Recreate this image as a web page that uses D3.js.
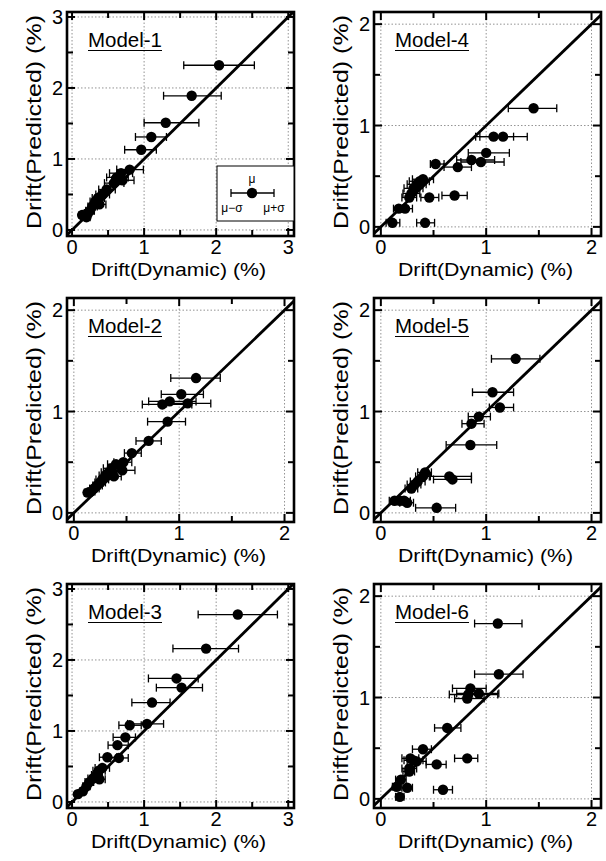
<!DOCTYPE html>
<html lang="en">
<head>
<meta charset="UTF-8">
<title>Drift predicted vs dynamic</title>
<style>
  body { margin: 0; background: #fff; }
  svg { display: block; font-family: "Liberation Sans", Arial, sans-serif; }
  .grid { stroke: #777; stroke-width: 0.8; stroke-dasharray: 1.5 2; }
</style>
</head>
<body>
<svg id="chart"></svg>
<script src="https://cdnjs.cloudflare.com/ajax/libs/d3/7.9.0/d3.min.js"></script>
<script>
// each point: [drift dynamic mean, drift predicted, mean - sigma, mean + sigma]
const model1 = [
  [2.04, 2.32, 1.55, 2.53], [1.66, 1.89, 1.27, 2.07], [1.30, 1.51, 1.00, 1.76],
  [1.10, 1.31, 0.88, 1.31], [0.96, 1.13, 0.73, 1.17], [0.80, 0.85, 0.62, 0.99],
  [0.68, 0.80, 0.52, 0.84], [0.62, 0.74, 0.48, 0.78], [0.70, 0.70, 0.55, 0.86],
  [0.58, 0.66, 0.45, 0.72], [0.48, 0.57, 0.37, 0.60], [0.42, 0.50, 0.33, 0.52],
  [0.36, 0.45, 0.28, 0.45], [0.32, 0.40, 0.25, 0.40], [0.38, 0.36, 0.30, 0.47],
  [0.28, 0.33, 0.22, 0.35], [0.25, 0.27, 0.19, 0.31], [0.22, 0.24, 0.17, 0.27],
  [0.14, 0.21, 0.10, 0.19], [0.20, 0.18, 0.15, 0.25]
];
const model2 = [
  [1.16, 1.33, 0.92, 1.39], [1.02, 1.17, 0.83, 1.23], [1.08, 1.08, 0.88, 1.30],
  [0.91, 1.10, 0.71, 1.16], [0.84, 1.07, 0.65, 1.12], [0.89, 0.90, 0.70, 1.06],
  [0.71, 0.71, 0.59, 0.83], [0.55, 0.59, 0.48, 0.64], [0.46, 0.42, 0.39, 0.58],
  [0.47, 0.50, 0.38, 0.55], [0.40, 0.48, 0.32, 0.47], [0.36, 0.44, 0.28, 0.43],
  [0.33, 0.40, 0.26, 0.40], [0.30, 0.37, 0.24, 0.36], [0.27, 0.33, 0.21, 0.33],
  [0.25, 0.30, 0.20, 0.30], [0.22, 0.27, 0.18, 0.27], [0.19, 0.24, 0.15, 0.24],
  [0.16, 0.21, 0.13, 0.20], [0.13, 0.20, 0.10, 0.17], [0.38, 0.36, 0.30, 0.45]
];
const model3 = [
  [2.30, 2.64, 1.75, 2.85], [1.86, 2.16, 1.40, 2.31], [1.45, 1.74, 1.06, 1.75],
  [1.52, 1.61, 1.17, 1.81], [1.11, 1.40, 0.83, 1.36], [1.04, 1.10, 0.77, 1.27],
  [0.80, 1.08, 0.65, 0.96], [0.74, 0.91, 0.57, 0.88], [0.63, 0.80, 0.50, 0.78],
  [0.49, 0.63, 0.38, 0.62], [0.65, 0.62, 0.53, 0.78], [0.42, 0.48, 0.32, 0.52],
  [0.37, 0.44, 0.29, 0.46], [0.34, 0.38, 0.27, 0.42], [0.38, 0.32, 0.30, 0.46],
  [0.29, 0.33, 0.22, 0.36], [0.24, 0.28, 0.18, 0.30], [0.20, 0.22, 0.15, 0.25],
  [0.15, 0.15, 0.11, 0.19], [0.08, 0.11, 0.05, 0.12]
];
const model4 = [
  [1.45, 1.17, 1.21, 1.67], [1.16, 0.89, 0.94, 1.39], [1.07, 0.89, 0.90, 1.26],
  [1.00, 0.73, 0.83, 1.22], [0.95, 0.64, 0.76, 1.17], [0.86, 0.66, 0.72, 1.08],
  [0.73, 0.59, 0.60, 0.86], [0.52, 0.62, 0.47, 0.60], [0.70, 0.31, 0.58, 0.82],
  [0.46, 0.29, 0.38, 0.55], [0.42, 0.04, 0.34, 0.51], [0.11, 0.04, 0.05, 0.18],
  [0.40, 0.47, 0.30, 0.50], [0.37, 0.45, 0.27, 0.46], [0.34, 0.42, 0.25, 0.43],
  [0.31, 0.38, 0.22, 0.40], [0.29, 0.33, 0.21, 0.37], [0.27, 0.29, 0.20, 0.34],
  [0.23, 0.18, 0.17, 0.30], [0.17, 0.18, 0.12, 0.22]
];
const model5 = [
  [1.28, 1.52, 1.05, 1.51], [1.06, 1.19, 0.87, 1.26], [1.13, 1.04, 1.03, 1.26],
  [0.93, 0.95, 0.83, 1.04], [0.86, 0.88, 0.77, 0.98], [0.85, 0.67, 0.62, 1.10],
  [0.65, 0.36, 0.47, 0.86], [0.68, 0.33, 0.50, 0.86], [0.53, 0.05, 0.33, 0.71],
  [0.42, 0.40, 0.35, 0.48], [0.40, 0.36, 0.33, 0.46], [0.35, 0.31, 0.28, 0.42],
  [0.32, 0.28, 0.25, 0.38], [0.29, 0.24, 0.23, 0.35], [0.22, 0.12, 0.15, 0.28],
  [0.18, 0.12, 0.12, 0.24], [0.13, 0.12, 0.08, 0.19], [0.25, 0.10, 0.18, 0.31]
];
const model6 = [
  [1.11, 1.73, 0.89, 1.34], [1.12, 1.23, 0.89, 1.35], [0.85, 1.09, 0.68, 1.00],
  [0.83, 1.03, 0.65, 1.11], [0.93, 1.04, 0.72, 1.12], [0.82, 0.99, 0.70, 0.98],
  [0.63, 0.70, 0.51, 0.76], [0.40, 0.49, 0.30, 0.48], [0.53, 0.34, 0.43, 0.62],
  [0.82, 0.40, 0.70, 0.92], [0.59, 0.09, 0.50, 0.68], [0.28, 0.40, 0.20, 0.36],
  [0.31, 0.38, 0.22, 0.40], [0.34, 0.37, 0.25, 0.43], [0.27, 0.30, 0.20, 0.34],
  [0.27, 0.27, 0.21, 0.32], [0.19, 0.19, 0.14, 0.24], [0.25, 0.11, 0.20, 0.30],
  [0.15, 0.12, 0.11, 0.19], [0.18, 0.02, 0.14, 0.22]
];

const modelNames = ["Model-1", "Model-4", "Model-2", "Model-5", "Model-3", "Model-6"];
const modelData = [model1, model4, model2, model5, model3, model6];
const axisMax = [3, 2, 2, 2, 3, 2];
const xTitle = "Drift(Dynamic) (%)";
const yTitle = "Drift(Predicted) (%)";

const W = 606, H = 861;
const colLeft = [67, 374];
const rowTop = [12, 298, 584];
const pw = 227, ph = 224;

const svg = d3.select("#chart").attr("width", W).attr("height", H);

modelNames.forEach((name, i) => {
  const col = i % 2, row = Math.floor(i / 2);
  const max = axisMax[i];
  const data = modelData[i];
  const g = svg.append("g").attr("transform", `translate(${colLeft[col]},${rowTop[row]})`);

  const xDom = max === 3 ? [-0.07, 3.08] : [-0.065, 2.09];
  const yDom = max === 3 ? [-0.085, 3.07] : [-0.09, 2.12];
  const x = d3.scaleLinear().domain(xDom).range([0, pw]);
  const y = d3.scaleLinear().domain(yDom).range([ph, 0]);
  const majors = d3.range(0, max + 1);
  const halves = d3.range(0, max + 0.01, 0.5);

  // dotted grid at integers
  g.selectAll(".gx").data(majors).enter().append("line").attr("class", "grid")
    .attr("x1", d => x(d)).attr("x2", d => x(d)).attr("y1", 0).attr("y2", ph);
  g.selectAll(".gy").data(majors).enter().append("line").attr("class", "grid")
    .attr("y1", d => y(d)).attr("y2", d => y(d)).attr("x1", 0).attr("x2", pw);

  // inward ticks on all four sides
  const tl = d => (d % 1 === 0 ? 8 : 6);
  const ticks = g.append("g").attr("stroke", "#000").attr("stroke-width", 2);
  halves.forEach(d => {
    ticks.append("line").attr("x1", x(d)).attr("x2", x(d)).attr("y1", ph).attr("y2", ph - tl(d));
    ticks.append("line").attr("x1", x(d)).attr("x2", x(d)).attr("y1", 0).attr("y2", tl(d));
    ticks.append("line").attr("y1", y(d)).attr("y2", y(d)).attr("x1", 0).attr("x2", tl(d));
    ticks.append("line").attr("y1", y(d)).attr("y2", y(d)).attr("x1", pw).attr("x2", pw - tl(d));
  });

  // tick labels
  g.selectAll(".xl").data(majors).enter().append("text")
    .attr("x", d => x(d)).attr("y", ph + 18).attr("text-anchor", "middle")
    .attr("font-size", 20).text(d => d);
  g.selectAll(".yl").data(majors).enter().append("text")
    .attr("x", -4).attr("y", d => y(d) + 7).attr("text-anchor", "end")
    .attr("font-size", 20).text(d => d);

  // axis titles
  g.append("text").attr("x", pw / 2 - 2).attr("y", ph + 40).attr("text-anchor", "middle")
    .attr("font-size", 19).attr("textLength", 175).attr("lengthAdjust", "spacingAndGlyphs")
    .text(xTitle);
  g.append("text").attr("transform", `translate(-26,${ph / 2 - 2}) rotate(-90)`)
    .attr("text-anchor", "middle").attr("font-size", 20)
    .attr("textLength", 214).attr("lengthAdjust", "spacingAndGlyphs")
    .text(yTitle);

  const plot = g.append("g");
  const clipId = "clip" + i;
  g.append("clipPath").attr("id", clipId).append("rect").attr("width", pw).attr("height", ph);
  plot.attr("clip-path", `url(#${clipId})`);

  // 1:1 line
  plot.append("line")
    .attr("x1", x(xDom[0])).attr("y1", y(xDom[0]))
    .attr("x2", x(yDom[1])).attr("y2", y(yDom[1]))
    .attr("stroke", "#000").attr("stroke-width", 2.8);

  // error bars
  const eb = plot.append("g").attr("stroke", "#000").attr("stroke-width", 1.3);
  data.forEach(d => {
    eb.append("line").attr("x1", x(d[2])).attr("x2", x(d[3])).attr("y1", y(d[1])).attr("y2", y(d[1]));
    eb.append("line").attr("x1", x(d[2])).attr("x2", x(d[2])).attr("y1", y(d[1]) - 4).attr("y2", y(d[1]) + 4);
    eb.append("line").attr("x1", x(d[3])).attr("x2", x(d[3])).attr("y1", y(d[1]) - 4).attr("y2", y(d[1]) + 4);
  });

  plot.selectAll("circle").data(data).enter().append("circle")
    .attr("cx", d => x(d[0])).attr("cy", d => y(d[1])).attr("r", 5.2).attr("fill", "#000");

  // frame
  g.append("rect").attr("width", pw).attr("height", ph)
    .attr("fill", "none").attr("stroke", "#000").attr("stroke-width", 2.6);

  // model label, underlined
  const lab = g.append("text").attr("x", 21).attr("y", 35).attr("font-size", 20)
    .attr("textLength", 74).attr("lengthAdjust", "spacingAndGlyphs").text(name);
  const bb = lab.node().getBBox();
  g.append("line").attr("x1", bb.x).attr("x2", bb.x + bb.width)
    .attr("y1", 38.5).attr("y2", 38.5).attr("stroke", "#000").attr("stroke-width", 1.2);

  // legend box (first panel only)
  if (i === 0) {
    const lg = g.append("g").attr("transform", `translate(${pw - 77},${ph - 70})`);
    lg.append("rect").attr("width", 77).attr("height", 55)
      .attr("fill", "#fff").attr("stroke", "#000").attr("stroke-width", 1);
    lg.append("text").attr("x", 35).attr("y", 17).attr("text-anchor", "middle")
      .attr("font-size", 12).text("\u03bc");
    lg.append("line").attr("x1", 14).attr("x2", 57).attr("y1", 27).attr("y2", 27)
      .attr("stroke", "#000").attr("stroke-width", 1.3);
    [14, 57].forEach(v => lg.append("line").attr("x1", v).attr("x2", v)
      .attr("y1", 23).attr("y2", 31).attr("stroke", "#000").attr("stroke-width", 1.3));
    lg.append("circle").attr("cx", 35).attr("cy", 27).attr("r", 5.2).attr("fill", "#000");
    lg.append("text").attr("x", 15).attr("y", 46).attr("text-anchor", "middle")
      .attr("font-size", 12).text("\u03bc\u2212\u03c3");
    lg.append("text").attr("x", 57).attr("y", 46).attr("text-anchor", "middle")
      .attr("font-size", 12).text("\u03bc+\u03c3");
  }
});
</script>
</body>
</html>
